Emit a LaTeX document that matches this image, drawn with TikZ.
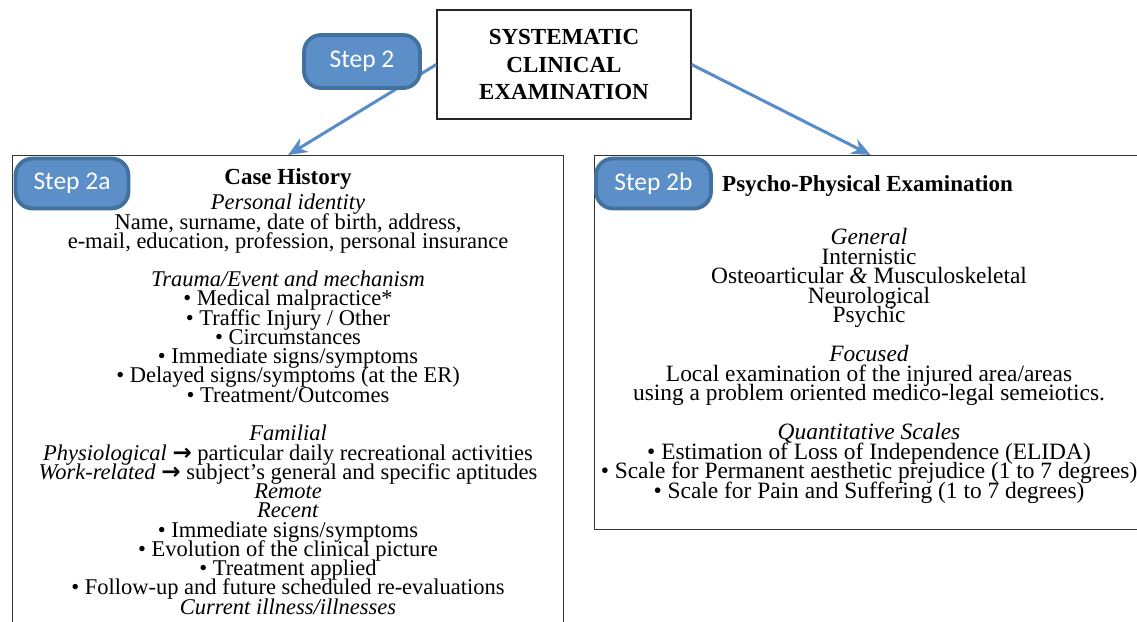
\documentclass[tikz,border=0pt]{standalone}
\usepackage{fontspec}
\setmainfont{Liberation Serif}
\newfontfamily\badgefont{Carlito}
\newfontfamily\arrowfont{DejaVu Sans}
\usetikzlibrary{arrows.meta}
\definecolor{badgefill}{RGB}{92,143,200}
\definecolor{badgeline}{RGB}{65,113,156}
\definecolor{arrowblue}{RGB}{86,140,201}
\newcommand{\goarrow}{{\arrowfont\bfseries\fontsize{23}{19}\selectfont →}}
\begin{document}
\begin{tikzpicture}[x=1pt,y=-1pt,
 badge/.style={draw=badgeline, line width=3.8pt, fill=badgefill, rounded corners=17pt, text=white, font=\badgefont\fontsize{25.5}{28}\selectfont, inner sep=0pt},
 frame/.style={draw=black!80, line width=1.3pt, inner sep=0pt, anchor=north west},
 conn/.style={draw=arrowblue, line width=3pt, -{Stealth[length=19pt,width=16pt]}},
 body/.style={font=\fontsize{22.5}{19.4}\selectfont, inner sep=0pt, anchor=base},
 rbody/.style={font=\fontsize{23.4}{19.4}\selectfont, inner sep=0pt, anchor=base},
 head/.style={font=\bfseries\fontsize{23}{27.5}\selectfont, inner sep=0pt},
]
\useasboundingbox (0,0) rectangle (1137,621);
\fill[white] (0,0) rectangle (1137,621);

% boxes
\node[draw=black!85, line width=1.3pt, minimum width=254pt, minimum height=109pt, inner sep=0pt,
      head, align=center] (topbox) at (564,64.5) {SYSTEMATIC\\CLINICAL\\EXAMINATION};
\node[frame, minimum width=551pt, minimum height=500pt] (leftbox) at (12,155) {};
\node[frame, minimum width=552pt, minimum height=374pt] (rightbox) at (594,155) {};

% connectors
\draw[conn] (topbox.west) -- (leftbox.north);
\draw[conn] (topbox.east) -- (rightbox.north);

% badges
\node[badge, minimum width=116pt, minimum height=53pt] (b2) at (362,61.5) {Step 2};
\node[badge, minimum width=113pt, minimum height=50pt] (b2a) at (72,183.5) {Step 2a};
\node[badge, minimum width=115pt, minimum height=50pt] (b2b) at (653.5,183.5) {Step 2b};

% left text
\node[head, anchor=base] (ch) at (288,184) {Case History};
\node[body] (l1) at (288,209.5) {\textit{Personal identity}};
\node[body] (l2) at (288,229) {Name, surname, date of birth, address,};
\node[body] (l3) at (288,248) {e-mail, education, profession, personal insurance};
\node[body] (l4) at (288,286.5) {\textit{Trauma/Event and mechanism}};
\node[body] (l5) at (288,305.5) {• Medical malpractice*};
\node[body] (l6) at (288,325) {• Traffic Injury / Other};
\node[body] (l7) at (288,344) {• Circumstances};
\node[body] (l8) at (288,363.5) {• Immediate signs/symptoms};
\node[body] (l9) at (288,382.5) {• Delayed signs/symptoms (at the ER)};
\node[body] (l10) at (288,402) {• Treatment/Outcomes};
\node[body] (l11) at (288,440.5) {\textit{Familial}};
\node[body] (l12) at (288,460) {\textit{Physiological} \goarrow{} particular daily recreational activities};
\node[body] (l13) at (288,479) {\textit{Work-related} \goarrow{} subject’s general and specific aptitudes};
\node[body] (l14) at (288,498.5) {\textit{Remote}};
\node[body] (l15) at (288,517.5) {\textit{Recent}};
\node[body] (l16) at (288,537) {• Immediate signs/symptoms};
\node[body] (l17) at (288,556) {• Evolution of the clinical picture};
\node[body] (l18) at (288,575.5) {• Treatment applied};
\node[body] (l19) at (288,594.5) {• Follow-up and future scheduled re-evaluations};
\node[body] (l20) at (288,614) {\textit{Current illness/illnesses}};

% right text
\node[head, anchor=base west] (ph) at (722,191) {Psycho-Physical Examination};
\node[rbody] (r1) at (869,244.5) {\textit{General}};
\node[rbody] (r2) at (869,264) {Internistic};
\node[rbody] (r3) at (869,283.5) {Osteoarticular \textit{\&} Musculoskeletal};
\node[rbody] (r4) at (869,303) {Neurological};
\node[rbody] (r5) at (869,322.5) {Psychic};
\node[rbody] (r6) at (869,361.5) {\textit{Focused}};
\node[rbody] (r7) at (869,381) {Local examination of the injured area/areas};
\node[rbody] (r8) at (869,400.5) {using a problem oriented medico-legal semeiotics.};
\node[rbody] (r9) at (869,439.5) {\textit{Quantitative Scales}};
\node[rbody] (r10) at (869,459) {• Estimation of Loss of Independence (ELIDA)};
\node[rbody] (r11) at (869,478.5) {• Scale for Permanent aesthetic prejudice (1 to 7 degrees)};
\node[rbody] (r12) at (869,498) {• Scale for Pain and Suffering (1 to 7 degrees)};
\end{tikzpicture}
\end{document}
